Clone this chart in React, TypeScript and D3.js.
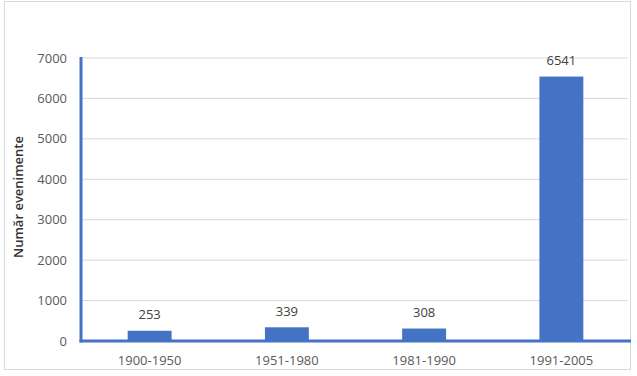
import React from "react";
import * as d3 from "d3";

const categories = ["1900-1950", "1951-1980", "1981-1990", "1991-2005"];
const values = [253, 339, 308, 6541];
const yTicks = [0, 1000, 2000, 3000, 4000, 5000, 6000, 7000];
const yLabel = "Număr evenimente";

export default function App() {
  const W = 637, H = 376;
  const left = 81, right = 630, top = 58, bottom = 341;
  const x = d3.scaleBand<string>().domain(categories).range([left, right]).paddingInner(0.68).paddingOuter(0.34);
  const y = d3.scaleLinear().domain([0, 7000]).range([bottom, top]);
  const font = "'Open Sans', 'Noto Sans', sans-serif";
  return (
    <svg width={W} height={H} style={{ position: "absolute", left: 0, top: 0 }}>
      <rect x={0} y={0} width={W} height={H} fill="#fff" />
      <rect x={4.5} y={1.5} width={626} height={368} fill="none" stroke="#d9d9d9" strokeWidth={1} />
      {yTicks.map((t) => (
        <g key={t}>
          {t > 0 && <line x1={left} x2={right - 2} y1={y(t)} y2={y(t)} stroke="#d9d9d9" strokeWidth={1} />}
          <text x={67} y={y(t)} dy="0.35em" textAnchor="end" fontSize={13} fill="#595959" fontFamily={font}>{t}</text>
        </g>
      ))}
      {categories.map((c, i) => (
        <g key={c}>
          <rect x={x(c)!} y={y(values[i])} width={x.bandwidth()} height={bottom - y(values[i])} fill="#4472C4" />
          <text x={x(c)! + x.bandwidth() / 2} y={y(values[i]) - 16} dy="0.35em" textAnchor="middle" fontSize={13} fill="#404040" fontFamily={font}>{values[i]}</text>
          <text x={x(c)! + x.bandwidth() / 2} y={360} dy="0.35em" textAnchor="middle" fontSize={13} fill="#595959" fontFamily={font}>{c}</text>
        </g>
      ))}
      <line x1={left} x2={left} y1={top - 1} y2={bottom + 1.5} stroke="#4472C4" strokeWidth={3} />
      <line x1={left - 1.5} x2={right + 1} y1={bottom} y2={bottom} stroke="#4472C4" strokeWidth={3} />
      <text transform={`translate(18,197) rotate(-90)`} dy="0.35em" textAnchor="middle" fontSize={13} fontWeight={600} fill="#333333" fontFamily={font}>{yLabel}</text>
    </svg>
  );
}
